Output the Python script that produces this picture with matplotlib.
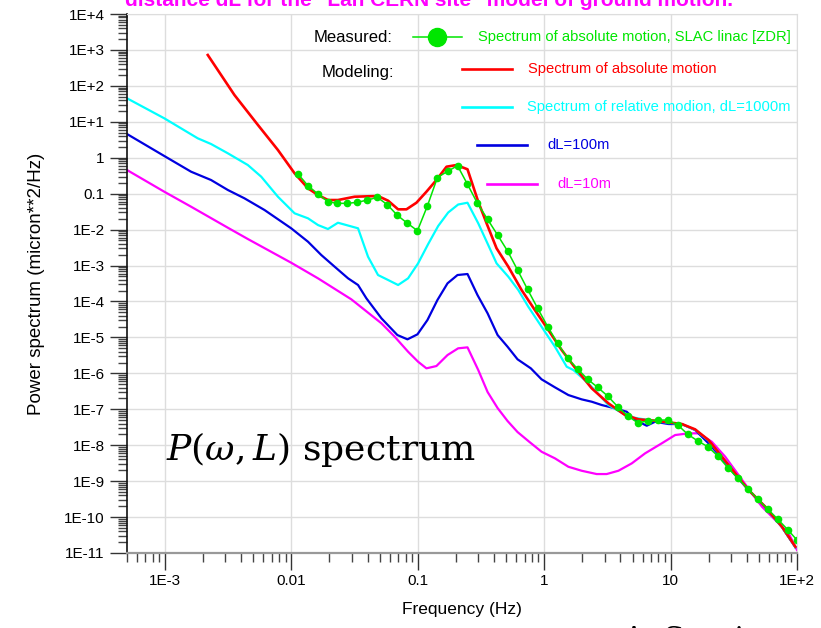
import numpy as np
import matplotlib
matplotlib.use("Agg")
import matplotlib.pyplot as plt
from matplotlib import font_manager
from matplotlib.ticker import LogLocator, NullFormatter

# values, stored as log10 exponents
red_logf = [-2.662, -2.451, -2.265, -2.107, -1.975, -1.869, -1.790, -1.711, -1.632, -1.500,
            -1.315, -1.235, -1.156, -1.090, -1.011, -0.932, -0.853, -0.773, -0.694, -0.607,
            -0.522, -0.456, -0.377, -0.284, -0.179, -0.074, 0.033, 0.138, 0.243, 0.376,
            0.508, 0.640, 0.746, 0.877, 1.010, 1.089, 1.194, 1.300, 1.406, 1.511,
            1.617, 1.749, 1.881, 1.987]
red_logP = [2.859, 1.746, 0.911, 0.215, -0.434, -0.851, -1.038, -1.177, -1.177, -1.085,
            -1.065, -1.196, -1.436, -1.436, -1.252, -0.946, -0.620, -0.250, -0.203, -0.322,
            -1.224, -1.825, -2.521, -3.033, -3.682, -4.238, -4.795, -5.351, -5.839, -6.418,
            -6.835, -7.161, -7.280, -7.319, -7.375, -7.411, -7.559, -7.856, -8.321, -8.783,
            -9.248, -9.713, -10.269, -10.826]

meas_logf = [-1.948, -1.869, -1.790, -1.711, -1.637, -1.558, -1.479, -1.399, -1.320, -1.241,
             -1.162, -1.082, -1.003, -0.924, -0.845, -0.765, -0.686, -0.607, -0.528, -0.448,
             -0.369, -0.290, -0.211, -0.132, -0.052, 0.027, 0.106, 0.185, 0.265, 0.344,
             0.423, 0.502, 0.582, 0.661, 0.740, 0.819, 0.899, 0.978, 1.057, 1.136,
             1.216, 1.295, 1.374, 1.453, 1.532, 1.612, 1.691, 1.770, 1.849, 1.929, 2.000]
meas_logP = [-0.453, -0.779, -1.010, -1.224, -1.269, -1.269, -1.241, -1.177, -1.102, -1.308,
             -1.603, -1.825, -2.031, -1.338, -0.551, -0.378, -0.222, -0.740, -1.269, -1.714,
             -2.151, -2.596, -3.125, -3.662, -4.191, -4.697, -5.165, -5.582, -5.880, -6.167,
             -6.390, -6.632, -6.929, -7.188, -7.375, -7.328, -7.300, -7.300, -7.439, -7.698,
             -7.884, -8.043, -8.302, -8.627, -8.922, -9.212, -9.507, -9.785, -10.064, -10.361, -10.640]

cyan_logf = [-3.301, -3.006, -2.741, -2.636, -2.503, -2.345, -2.239, -2.107, -1.975, -1.869,
             -1.790, -1.711, -1.632, -1.473, -1.394, -1.315, -1.235, -1.156, -1.077, -0.998,
             -0.918, -0.839, -0.760, -0.681, -0.607, -0.522, -0.443, -0.377, -0.284, -0.205,
             -0.126, -0.021, 0.085, 0.178, 0.231, 0.349, 0.508, 0.666, 0.877, 1.089,
             1.194, 1.300, 1.406, 1.511, 1.617, 1.749, 1.881, 1.987]
cyan_logP = [1.654, 1.097, 0.540, 0.382, 0.123, -0.203, -0.528, -1.085, -1.547, -1.686,
             -1.873, -1.984, -1.809, -1.964, -2.755, -3.264, -3.403, -3.542, -3.356, -2.939,
             -2.401, -1.900, -1.525, -1.302, -1.252, -1.825, -2.429, -2.939, -3.311, -3.682,
             -4.146, -4.703, -5.260, -5.816, -5.908, -6.278, -6.882, -7.208, -7.330, -7.420,
             -7.570, -7.870, -8.330, -8.800, -9.260, -9.720, -10.280, -10.840]

blue_logf = [-3.301, -3.006, -2.794, -2.636, -2.503, -2.372, -2.213, -2.002, -1.869, -1.764,
             -1.658, -1.552, -1.473, -1.407, -1.288, -1.162, -1.082, -1.003, -0.924, -0.845,
             -0.765, -0.686, -0.607, -0.528, -0.448, -0.369, -0.290, -0.211, -0.106, -0.021,
             0.085, 0.191, 0.296, 0.376, 0.455, 0.560, 0.653, 0.719, 0.811, 0.877,
             0.983, 1.089, 1.194, 1.300, 1.406, 1.511, 1.617, 1.749, 1.881, 1.987]
blue_logP = [0.660, 0.048, -0.389, -0.620, -0.898, -1.129, -1.455, -1.964, -2.337, -2.707,
             -3.033, -3.356, -3.542, -3.913, -4.469, -4.934, -5.054, -4.915, -4.517, -3.960,
             -3.495, -3.264, -3.236, -3.821, -4.330, -4.934, -5.260, -5.610, -5.861, -6.167,
             -6.390, -6.604, -6.724, -6.790, -6.882, -6.974, -7.069, -7.300, -7.458, -7.347,
             -7.411, -7.411, -7.578, -7.948, -8.366, -8.831, -9.248, -9.720, -10.280, -10.840]

mag_logf = [-3.301, -3.006, -2.794, -2.503, -2.345, -2.186, -2.002, -1.790, -1.526, -1.288,
            -1.183, -1.077, -0.998, -0.932, -0.853, -0.765, -0.681, -0.607, -0.522, -0.448,
            -0.369, -0.290, -0.211, -0.116, -0.021, 0.085, 0.191, 0.296, 0.415, 0.494,
            0.587, 0.693, 0.798, 0.930, 1.036, 1.142, 1.221, 1.326, 1.432, 1.538,
            1.643, 1.723, 1.828, 1.934, 2.000]
mag_logP = [-0.342, -0.946, -1.363, -1.948, -2.262, -2.568, -2.922, -3.356, -3.941, -4.608,
            -4.981, -5.399, -5.677, -5.861, -5.797, -5.491, -5.304, -5.277, -5.908, -6.520,
            -6.966, -7.327, -7.634, -7.912, -8.182, -8.366, -8.600, -8.711, -8.803, -8.803,
            -8.711, -8.505, -8.227, -7.948, -7.717, -7.670, -7.670, -7.904, -8.321, -8.831,
            -9.340, -9.713, -10.083, -10.453, -10.918]

xticks = [1e-3, 1e-2, 1e-1, 1, 10, 100]
xticklabels = ["1E-3", "0.01", "0.1", "1", "10", "1E+2"]
yticks = [10.0 ** k for k in range(4, -12, -1)]
yticklabels = ["1E+4", "1E+3", "1E+2", "1E+1", "1", "0.1", "1E-2", "1E-3", "1E-4",
               "1E-5", "1E-6", "1E-7", "1E-8", "1E-9", "1E-10", "1E-11"]

GREEN = "#00e600"
RED = "#ff0000"
CYAN = "#00ffff"
BLUE = "#0000e0"
MAGENTA = "#ff00ff"

names = {f.name for f in font_manager.fontManager.ttflist}
narrow = "Liberation Sans Narrow" in names
leg_font = "Liberation Sans Narrow" if narrow else "Liberation Sans"
leg_size = 12.5 if narrow else 10.6

plt.rcParams["font.family"] = ["Liberation Sans", "DejaVu Sans"]
plt.rcParams["mathtext.fontset"] = "dejavuserif"

W, H = 821, 628
fig = plt.figure(figsize=(W / 100, H / 100), dpi=100)
ax = fig.add_axes([127 / W, 1 - 553 / H, 670 / W, 539 / H])


def p(a):
    return 10.0 ** np.array(a)


ax.plot(p(mag_logf), p(mag_logP), color=MAGENTA, lw=1.6)
ax.plot(p(blue_logf), p(blue_logP), color=BLUE, lw=1.6)
ax.plot(p(cyan_logf), p(cyan_logP), color=CYAN, lw=1.6)
ax.plot(p(red_logf), p(red_logP), color=RED, lw=1.9)
ax.plot(p(meas_logf), p(meas_logP), color=GREEN, lw=1.1, marker="o", ms=4.5)

ax.set_xscale("log")
ax.set_yscale("log")
ax.set_xlim(5e-4, 100)
ax.set_ylim(1e-11, 1e4)

ax.set_xticks(xticks)
ax.set_xticklabels(xticklabels, fontsize=11)
ax.set_yticks(yticks)
ax.set_yticklabels(yticklabels, fontsize=11)
ax.xaxis.set_minor_locator(LogLocator(base=10, subs=np.arange(2, 10), numticks=50))
ax.yaxis.set_minor_locator(LogLocator(base=10, subs=np.arange(2, 10), numticks=50))
ax.xaxis.set_minor_formatter(NullFormatter())
ax.yaxis.set_minor_formatter(NullFormatter())
ax.tick_params(which="major", direction="out", length=12, width=1.0, color="#333333", pad=4)
ax.tick_params(which="minor", direction="out", length=6.5, width=1.0, color="#444444")
ax.tick_params(axis="x", which="major", pad=3)

ax.grid(which="major", color="#dddddd", lw=1.0)
ax.grid(which="minor", visible=False)
ax.set_axisbelow(True)
for s in ("top", "right"):
    ax.spines[s].set_color("#dddddd")
ax.spines["left"].set_color("#111111")
ax.spines["left"].set_linewidth(1.2)
ax.spines["bottom"].set_color("#999999")
ax.spines["bottom"].set_linewidth(1.6)

ax.set_xlabel("Frequency (Hz)", fontsize=12.5, labelpad=10)
ax.set_ylabel("Power spectrum (micron**2/Hz)", fontsize=13.5, labelpad=14)


# legend drawn by hand, in axes fractions
def ax_xy(px, py):
    return (px - 127) / 670, 1 - (py - 14) / 539


def sample(x0, x1, y, color, lw, **kw):
    a0 = ax_xy(x0, y)
    a1 = ax_xy(x1, y)
    ax.plot([a0[0], a1[0]], [a0[1], a1[1]], color=color, lw=lw,
            transform=ax.transAxes, clip_on=False, **kw)


def label(x, y, s, color, **kw):
    ax.text(*ax_xy(x, y), s, color=color, transform=ax.transAxes, va="center", **kw)


label(392, 37, "Measured:", "black", ha="right", fontsize=12)
label(394, 72, "Modeling:", "black", ha="right", fontsize=12)

sample(413, 462, 37, GREEN, 1.1)
c = ax_xy(436.5, 37)
ax.plot([c[0]], [c[1]], "o", color=GREEN, ms=13, transform=ax.transAxes, clip_on=False)
label(478, 37, "Spectrum of absolute motion, SLAC linac [ZDR]", GREEN,
      family=leg_font, fontsize=leg_size)

sample(462, 512, 69, RED, 1.9)
label(528, 69, "Spectrum of absolute motion", RED, family=leg_font, fontsize=leg_size)

sample(462, 512, 107, CYAN, 1.9)
label(527, 107, "Spectrum of relative modion, dL=1000m", CYAN, family=leg_font, fontsize=leg_size)

sample(477, 527, 145, BLUE, 1.9)
label(547, 145, "dL=100m", BLUE, family=leg_font, fontsize=leg_size)

sample(487, 537, 184, MAGENTA, 1.9)
label(557, 184, "dL=10m", MAGENTA, family=leg_font, fontsize=leg_size)

ax.text(*ax_xy(166, 460), r"$P(\omega,L)$ spectrum", transform=ax.transAxes,
        family="DejaVu Serif", fontsize=26, va="baseline", ha="left")

# clipped remnants at the figure edges, as in the original slide
fig.text(429 / W, 1 - 6 / H, 'distance dL for the "Lan CERN site" model of ground motion.',
         color=MAGENTA, fontweight="bold", fontsize=15, ha="center", va="baseline")
fig.text(622 / W, 1 - 625 / H, "A. Seryi", family="DejaVu Serif", fontsize=22,
         ha="left", va="top")

fig.savefig("out.png", dpi=100)
